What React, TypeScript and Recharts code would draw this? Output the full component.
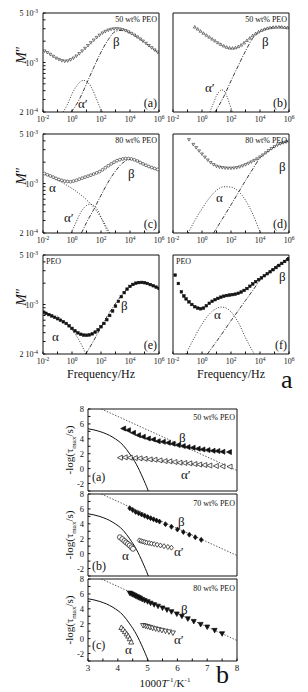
import React from "react";
import { ComposedChart, Line, Scatter, XAxis, YAxis } from "recharts";

const SERIF = '"Liberation Serif", "Times New Roman", serif';

type Pair = [number, number];

// ---- M'' spectra, [log10 f, M''] ----
const specA50: Pair[] = [
  [-1.9, 1.45e-3], [-1.7, 1.38e-3], [-1.5, 1.3e-3], [-1.3, 1.22e-3], [-1.1, 1.15e-3], [-0.9, 1.1e-3],
  [-0.7, 1.06e-3], [-0.5, 1.04e-3], [-0.3, 1.05e-3], [-0.1, 1.09e-3], [0.1, 1.15e-3], [0.3, 1.23e-3],
  [0.5, 1.33e-3], [0.7, 1.45e-3], [0.9, 1.58e-3], [1.1, 1.73e-3], [1.3, 1.9e-3], [1.5, 2.07e-3],
  [1.7, 2.25e-3], [1.9, 2.43e-3], [2.1, 2.6e-3], [2.3, 2.74e-3], [2.5, 2.86e-3], [2.7, 2.94e-3],
  [2.9, 2.98e-3], [3.1, 2.99e-3], [3.3, 2.96e-3], [3.5, 2.9e-3], [3.7, 2.81e-3], [3.9, 2.7e-3],
  [4.1, 2.57e-3], [4.3, 2.43e-3], [4.5, 2.29e-3], [4.7, 2.14e-3], [4.9, 2.0e-3], [5.1, 1.86e-3],
  [5.3, 1.73e-3], [5.5, 1.61e-3], [5.7, 1.5e-3], [5.9, 1.4e-3],
];
const betaA50: Pair[] = [
  [-0.05, 2e-4], [0.5, 3.0e-4], [1.0, 5.0e-4], [1.5, 8.5e-4], [2.0, 1.4e-3], [2.5, 2.1e-3],
  [3.0, 2.75e-3], [3.5, 2.85e-3], [4.0, 2.6e-3], [4.5, 2.28e-3], [5.0, 1.93e-3], [5.5, 1.61e-3], [6.0, 1.35e-3],
];
const alphaPA50: Pair[] = [
  [-0.6, 2e-4], [-0.3, 2.6e-4], [0, 3.6e-4], [0.3, 4.6e-4], [0.6, 5.4e-4], [0.8, 5.6e-4],
  [1.0, 5.4e-4], [1.3, 4.6e-4], [1.6, 3.4e-4], [1.9, 2.4e-4], [2.1, 2e-4],
];

const specB50: Pair[] = [
  [-0.5, 3.18e-3], [-0.3, 2.98e-3], [-0.1, 2.78e-3], [0.1, 2.6e-3], [0.3, 2.44e-3], [0.5, 2.29e-3],
  [0.7, 2.15e-3], [0.9, 2.03e-3], [1.1, 1.91e-3], [1.3, 1.81e-3], [1.5, 1.72e-3], [1.7, 1.65e-3],
  [1.9, 1.61e-3], [2.1, 1.6e-3], [2.3, 1.62e-3], [2.5, 1.68e-3], [2.7, 1.77e-3], [2.9, 1.9e-3],
  [3.1, 2.05e-3], [3.3, 2.22e-3], [3.5, 2.4e-3], [3.7, 2.57e-3], [3.9, 2.72e-3], [4.1, 2.85e-3],
  [4.3, 2.96e-3], [4.5, 3.05e-3], [4.7, 3.11e-3], [4.9, 3.15e-3], [5.1, 3.17e-3], [5.3, 3.18e-3],
  [5.5, 3.17e-3], [5.7, 3.14e-3], [5.9, 3.1e-3],
];
const betaB50: Pair[] = [
  [0.9, 2e-4], [1.5, 3.3e-4], [2.0, 5.5e-4], [2.5, 9e-4], [3.0, 1.45e-3], [3.5, 2.2e-3],
  [4.0, 2.75e-3], [4.5, 3.02e-3], [5.0, 3.15e-3], [5.5, 3.17e-3], [6.0, 3.1e-3],
];
const alphaPB50: Pair[] = [
  [0.55, 2e-4], [0.8, 2.7e-4], [1.0, 3.4e-4], [1.2, 3.9e-4], [1.35, 4.1e-4], [1.5, 4.0e-4],
  [1.7, 3.4e-4], [1.9, 2.6e-4], [2.1, 2e-4],
];

const specC80: Pair[] = [
  [-1.9, 1.38e-3], [-1.7, 1.33e-3], [-1.5, 1.28e-3], [-1.3, 1.23e-3], [-1.1, 1.18e-3], [-0.9, 1.14e-3],
  [-0.7, 1.11e-3], [-0.5, 1.08e-3], [-0.3, 1.07e-3], [-0.1, 1.06e-3], [0.1, 1.08e-3], [0.3, 1.11e-3],
  [0.5, 1.15e-3], [0.7, 1.19e-3], [0.9, 1.23e-3], [1.1, 1.27e-3], [1.3, 1.31e-3], [1.5, 1.36e-3],
  [1.7, 1.41e-3], [1.9, 1.47e-3], [2.1, 1.56e-3], [2.3, 1.67e-3], [2.5, 1.78e-3], [2.7, 1.89e-3],
  [2.9, 2.0e-3], [3.1, 2.1e-3], [3.3, 2.17e-3], [3.5, 2.22e-3], [3.7, 2.25e-3], [3.9, 2.25e-3],
  [4.1, 2.22e-3], [4.3, 2.16e-3], [4.5, 2.08e-3], [4.7, 1.98e-3], [4.9, 1.89e-3], [5.1, 1.81e-3],
  [5.3, 1.74e-3], [5.5, 1.68e-3], [5.7, 1.63e-3], [5.9, 1.58e-3],
];
const alphaC80: Pair[] = [
  [-2, 1.4e-3], [-1, 1.12e-3], [0, 8.5e-4], [0.5, 7.2e-4], [1, 5.9e-4], [1.5, 4.6e-4],
  [2, 3.3e-4], [2.3, 2.6e-4], [2.6, 2e-4],
];
const alphaPC80: Pair[] = [
  [-0.05, 2e-4], [0.3, 2.9e-4], [0.6, 3.9e-4], [0.9, 4.7e-4], [1.2, 5.1e-4], [1.5, 4.9e-4],
  [1.8, 4.1e-4], [2.1, 3.0e-4], [2.4, 2.2e-4], [2.5, 2e-4],
];
const betaC80: Pair[] = [
  [0.65, 2e-4], [1.0, 2.8e-4], [1.5, 4.3e-4], [2.0, 6.8e-4], [2.5, 1.05e-3], [3.0, 1.5e-3],
  [3.5, 1.95e-3], [4.0, 2.2e-3], [4.5, 2.1e-3], [5.0, 1.85e-3], [5.5, 1.68e-3], [6.0, 1.56e-3],
];

const specD80: Pair[] = [
  [-0.9, 4.15e-3], [-0.6, 3.55e-3], [-0.4, 3.2e-3], [-0.2, 2.88e-3], [0.0, 2.6e-3], [0.2, 2.35e-3],
  [0.4, 2.14e-3], [0.6, 1.97e-3], [0.8, 1.84e-3], [1.0, 1.75e-3], [1.2, 1.7e-3], [1.4, 1.67e-3],
  [1.6, 1.65e-3], [1.8, 1.64e-3], [2.0, 1.64e-3], [2.2, 1.65e-3], [2.4, 1.67e-3], [2.6, 1.71e-3],
  [2.8, 1.77e-3], [3.0, 1.84e-3], [3.2, 1.92e-3], [3.4, 2.01e-3], [3.6, 2.11e-3], [3.8, 2.22e-3],
  [4.0, 2.36e-3], [4.2, 2.52e-3], [4.4, 2.7e-3], [4.6, 2.9e-3], [4.8, 3.1e-3], [5.0, 3.3e-3],
  [5.2, 3.48e-3], [5.4, 3.63e-3], [5.6, 3.75e-3], [5.8, 3.85e-3], [6.0, 3.93e-3],
];
const alphaD80: Pair[] = [
  [-0.95, 2e-4], [-0.5, 3.0e-4], [0, 4.4e-4], [0.5, 6.2e-4], [1.0, 8.0e-4], [1.5, 9.0e-4],
  [2.0, 8.9e-4], [2.5, 7.8e-4], [3.0, 5.8e-4], [3.5, 3.7e-4], [4.0, 2.1e-4], [4.05, 2e-4],
];
const betaD80: Pair[] = [
  [0.8, 2e-4], [1.5, 3.4e-4], [2.0, 5.0e-4], [2.5, 7.4e-4], [3.0, 1.1e-3], [3.5, 1.6e-3],
  [4.0, 2.3e-3], [4.5, 2.8e-3], [5.0, 3.3e-3], [5.5, 3.7e-3], [6.0, 3.95e-3],
];

const specE: Pair[] = [
  [-2.0, 7.8e-4], [-1.8, 7.5e-4], [-1.6, 7.2e-4], [-1.4, 6.9e-4], [-1.2, 6.6e-4], [-1.0, 6.3e-4],
  [-0.8, 6.0e-4], [-0.6, 5.7e-4], [-0.4, 5.4e-4], [-0.2, 5.0e-4], [0.0, 4.6e-4], [0.2, 4.25e-4],
  [0.4, 3.98e-4], [0.6, 3.8e-4], [0.8, 3.7e-4], [1.0, 3.68e-4], [1.2, 3.72e-4], [1.4, 3.85e-4],
  [1.6, 4.08e-4], [1.8, 4.4e-4], [2.0, 4.85e-4], [2.2, 5.4e-4], [2.4, 6.1e-4], [2.6, 7.0e-4],
  [2.8, 8.1e-4], [3.0, 9.5e-4], [3.2, 1.11e-3], [3.4, 1.29e-3], [3.6, 1.47e-3], [3.8, 1.65e-3],
  [4.0, 1.8e-3], [4.2, 1.92e-3], [4.4, 2.0e-3], [4.6, 2.04e-3], [4.8, 2.05e-3], [5.0, 2.03e-3],
  [5.2, 1.98e-3], [5.4, 1.91e-3], [5.6, 1.84e-3], [5.8, 1.76e-3], [6.0, 1.69e-3],
];
const alphaE: Pair[] = [[-1.0, 6.9e-4], [-0.5, 5.6e-4], [0, 4.4e-4], [0.5, 3.1e-4], [0.95, 2e-4]];
const betaE: Pair[] = [
  [0.95, 2e-4], [1.5, 3.1e-4], [2.0, 4.8e-4], [2.5, 7.2e-4], [3.0, 1.03e-3], [3.5, 1.42e-3],
  [4.0, 1.8e-3], [4.5, 2.02e-3], [5.0, 2.03e-3], [5.5, 1.88e-3], [6.0, 1.7e-3],
];

const specF: Pair[] = [
  [-1.85, 2.6e-3], [-1.63, 1.98e-3], [-1.42, 1.51e-3], [-1.25, 1.32e-3], [-1.1, 1.2e-3], [-0.9, 1.09e-3],
  [-0.7, 1.0e-3], [-0.5, 9.3e-4], [-0.3, 8.9e-4], [-0.1, 8.7e-4], [0.1, 8.9e-4], [0.3, 9.6e-4],
  [0.5, 1.04e-3], [0.7, 1.11e-3], [0.9, 1.17e-3], [1.1, 1.22e-3], [1.3, 1.27e-3], [1.5, 1.31e-3],
  [1.7, 1.34e-3], [1.9, 1.36e-3], [2.1, 1.38e-3], [2.3, 1.4e-3], [2.5, 1.44e-3], [2.7, 1.5e-3],
  [2.9, 1.58e-3], [3.1, 1.68e-3], [3.3, 1.81e-3], [3.5, 1.95e-3], [3.7, 2.1e-3], [3.9, 2.25e-3],
  [4.1, 2.38e-3], [4.3, 2.55e-3], [4.5, 2.72e-3], [4.7, 2.9e-3], [4.9, 3.1e-3], [5.1, 3.32e-3],
  [5.3, 3.55e-3], [5.5, 3.8e-3], [5.7, 4.05e-3], [5.9, 4.32e-3], [6.0, 4.45e-3],
];
const alphaF: Pair[] = [
  [-1.1, 2e-4], [-0.5, 3.5e-4], [0, 5.3e-4], [0.5, 7.3e-4], [1.0, 8.8e-4], [1.3, 9.2e-4],
  [1.6, 9.0e-4], [2.0, 7.9e-4], [2.5, 5.6e-4], [3.0, 3.4e-4], [3.6, 2e-4],
];
const betaF: Pair[] = [
  [0.37, 2e-4], [1.0, 3.0e-4], [1.5, 4.2e-4], [2.0, 5.9e-4], [2.5, 8.2e-4], [3.0, 1.14e-3],
  [3.5, 1.58e-3], [4.0, 2.2e-3], [4.5, 2.75e-3], [5.0, 3.35e-3], [5.5, 3.95e-3], [6.0, 4.5e-3],
];

// ---- relaxation map, [1000/T, -log tau] ----
const vftCurve: Pair[] = [
  [3, 5.35], [3.4, 4.98], [3.84, 4.19], [4.18, 3.13], [4.4, 1.98], [4.62, 0.6], [4.84, -1.24], [5.01, -2.86], [5.05, -3.3],
];
const arrLine: Pair[] = [[3.45, 8], [8, -0.25]];

const beta50: Pair[] = [
  [4.18, 5.38], [4.34, 5.16], [4.51, 4.8], [4.68, 4.49], [4.84, 4.27], [5.01, 4.04], [5.18, 3.91],
  [5.34, 3.69], [5.51, 3.6], [5.68, 3.47], [5.84, 3.33], [6.01, 3.16], [6.18, 3.02], [6.34, 2.89],
  [6.51, 2.8], [6.68, 2.67], [6.84, 2.58], [7.01, 2.49], [7.18, 2.4], [7.34, 2.36], [7.51, 2.27], [7.73, 2.22],
];
const alphaP50: Pair[] = [
  [4.07, 1.47], [4.23, 1.51], [4.4, 1.47], [4.57, 1.42], [4.73, 1.38], [4.9, 1.33], [5.07, 1.24],
  [5.23, 1.2], [5.4, 1.11], [5.57, 1.02], [5.73, 0.98], [5.9, 0.89], [6.07, 0.8], [6.23, 0.76],
  [6.4, 0.71], [6.57, 0.62], [6.73, 0.55], [6.9, 0.48], [7.07, 0.42], [7.29, 0.36], [7.51, 0.31], [7.75, 0.27],
];
const beta70: Pair[] = [
  [4.4, 6.1], [4.5, 5.85], [4.6, 5.6], [4.7, 5.42], [4.8, 5.25], [4.9, 5.07], [5.0, 4.9], [5.1, 4.75],
  [5.2, 4.6], [5.3, 4.45], [5.4, 4.3], [5.6, 3.95], [5.8, 3.6], [6.0, 3.25], [6.2, 2.9], [6.4, 2.55],
  [6.6, 2.2], [6.8, 1.85],
];
const alphaP70: Pair[] = [
  [4.72, 1.78], [4.78, 1.7], [4.84, 1.62], [4.9, 1.55], [4.97, 1.48], [5.05, 1.42], [5.13, 1.35],
  [5.22, 1.28], [5.32, 1.2], [5.43, 1.1], [5.55, 1.0], [5.68, 0.9], [5.8, 0.8],
];
const alpha70: Pair[] = [
  [4.07, 2.2], [4.15, 1.95], [4.22, 1.7], [4.28, 1.5], [4.34, 1.3], [4.4, 1.1], [4.46, 0.85], [4.51, 0.65],
];
const beta80: Pair[] = [
  [4.4, 6.1], [4.45, 6.0], [4.5, 5.9], [4.55, 5.8], [4.6, 5.7], [4.65, 5.6], [4.7, 5.5], [4.75, 5.4],
  [4.82, 5.25], [4.9, 5.1], [5.0, 4.95], [5.1, 4.75], [5.22, 4.55], [5.35, 4.35], [5.5, 4.1],
  [5.65, 3.85], [5.8, 3.6], [5.98, 3.3], [6.15, 3.0], [6.35, 2.65], [6.55, 2.3], [6.78, 1.9],
  [7.0, 1.55], [7.25, 1.1], [7.5, 0.65],
];
const alphaP80: Pair[] = [
  [4.85, 1.75], [4.93, 1.68], [5.0, 1.6], [5.08, 1.5], [5.17, 1.4], [5.27, 1.3], [5.37, 1.2],
  [5.48, 1.1], [5.6, 1.0], [5.72, 0.9], [5.85, 0.75],
];
const alpha80: Pair[] = [
  [4.12, 1.5], [4.18, 1.25], [4.24, 0.95], [4.3, 0.65], [4.35, 0.35], [4.4, 0.0], [4.45, -0.45],
];

const freqTicks = [1e-2, 1e-1, 1, 1e1, 1e2, 1e3, 1e4, 1e5, 1e6];
const mTicks = [2e-4, 3e-4, 4e-4, 5e-4, 6e-4, 7e-4, 8e-4, 9e-4, 1e-3, 2e-3, 3e-3, 4e-3, 5e-3];
const invTTicks = [3, 3.5, 4, 4.5, 5, 5.5, 6, 6.5, 7, 7.5, 8];
const tauTicks = [-3, -2, -1, 0, 1, 2, 3, 4, 5, 6, 7, 8];
const tauLabels = [-2, 0, 2, 4, 6, 8];

const toFM = (a: Pair[]) => a.map(([lf, m]) => ({ f: 10 ** lf, m }));
const toXY = (a: Pair[]) => a.map(([x, y]) => ({ x, y }));

const DOT = "1 1.6";
const DASHDOT = "4 1.5 1 1.5";

function marker(kind: string, s: number, sw = 0.7) {
  return (p: any) => {
    const { cx, cy } = p;
    if (cx == null || cy == null) return <g />;
    const k = s;
    const filled = kind.endsWith("F");
    const fill = filled ? "#111" : "#fff";
    const base = { fill, stroke: "#111", strokeWidth: sw };
    if (kind.startsWith("sq")) return <rect x={cx - k / 2} y={cy - k / 2} width={k} height={k} {...base} />;
    if (kind.startsWith("ci")) return <circle cx={cx} cy={cy} r={k / 2} {...base} />;
    if (kind.startsWith("di"))
      return <path d={`M${cx},${cy - k / 2}L${cx + k / 2.6},${cy}L${cx},${cy + k / 2}L${cx - k / 2.6},${cy}Z`} {...base} />;
    if (kind.startsWith("tl"))
      return <path d={`M${cx - k / 2},${cy}L${cx + k / 2},${cy - k / 2}L${cx + k / 2},${cy + k / 2}Z`} {...base} />;
    if (kind.startsWith("tu"))
      return <path d={`M${cx},${cy - k / 2}L${cx + k / 2},${cy + k / 2.4}L${cx - k / 2},${cy + k / 2.4}Z`} {...base} />;
    return <path d={`M${cx},${cy + k / 2}L${cx + k / 2},${cy - k / 2.4}L${cx - k / 2},${cy - k / 2.4}Z`} {...base} />;
  };
}

function FreqTick(props: any) {
  const { x, y, payload } = props;
  const e = Math.round(Math.log10(payload.value));
  if (e % 2 !== 0) return <g />;
  return (
    <text x={x} y={y + 10} textAnchor="middle" fontSize={8} fontFamily={SERIF} fill="#111">
      10<tspan dy={-3.5} fontSize={5.5}>{e}</tspan>
    </text>
  );
}

function MTick(props: any) {
  const { x, y, payload } = props;
  const v = payload.value;
  const lab = v === 5e-3 ? ["5 10", "-3"] : v === 1e-3 ? ["10", "-3"] : v === 2e-4 ? ["2 10", "-4"] : null;
  if (!lab) return <g />;
  return (
    <text x={x - 5} y={y + 3} textAnchor="end" fontSize={8} fontFamily={SERIF} fill="#111">
      {lab[0]}<tspan dy={-3.5} fontSize={5.5}>{lab[1]}</tspan>
    </text>
  );
}

function InvTTick(props: any) {
  const { x, y, payload } = props;
  if (payload.value % 1 !== 0) return <g />;
  return (
    <text x={x} y={y + 10} textAnchor="middle" fontSize={9} fontFamily={SERIF} fill="#111">
      {payload.value}
    </text>
  );
}

function TauTick(props: any) {
  const { x, y, payload } = props;
  const v = Number(payload.value);
  if (!tauLabels.includes(v)) return <g />;
  return (
    <text x={x - 4} y={y + 3} textAnchor="end" fontSize={8.5} fontFamily={SERIF} fill="#111">
      {String(v)}
    </text>
  );
}

type Fit = { data: Pair[]; dash: string };

const TW = 116;
const TH = 99;

function TopPanel({ x, y, pts, mk, fits, yLabels }: { x: number; y: number; pts: Pair[]; mk: string; fits: Fit[]; yLabels: boolean }) {
  const common = { type: "number" as const, scale: "log" as const, allowDataOverflow: true, tickSize: -2.5, tickMargin: 2.5, stroke: "#111", interval: 0 as const };
  const sz = mk.startsWith("sq") ? 2.6 : 2.8;
  return (
    <div style={{ position: "absolute", left: x - 40, top: y - 5 }}>
      <ComposedChart width={TW + 49} height={TH + 21} margin={{ top: 4, right: 8, bottom: 0, left: 0 }}>
        <XAxis dataKey="f" domain={[1e-2, 1e6]} ticks={freqTicks} height={16} tick={FreqTick} {...common} />
        <XAxis xAxisId="top" orientation="top" domain={[1e-2, 1e6]} ticks={freqTicks} height={1} tick={false} {...common} />
        <YAxis dataKey="m" domain={[2e-4, 5e-3]} ticks={mTicks} width={40} tick={yLabels ? MTick : false} {...common} />
        <YAxis yAxisId="right" orientation="right" domain={[2e-4, 5e-3]} ticks={mTicks} width={1} tick={false} {...common} />
        {fits.map((ft, i) => (
          <Line key={i} data={toFM(ft.data)} dataKey="m" type="monotone" stroke="#222" strokeWidth={0.9}
            strokeDasharray={ft.dash} dot={false} activeDot={false} isAnimationActive={false} />
        ))}
        <Scatter data={toFM(pts)} dataKey="m" shape={marker(mk, sz, 0.55)} isAnimationActive={false} />
      </ComposedChart>
    </div>
  );
}

const BW = 149;
const BH = 82;

type Ser = { data: Pair[]; mk: string };

function MapPanel({ y, series, xLabels }: { y: number; series: Ser[]; xLabels: boolean }) {
  const common = { type: "number" as const, allowDataOverflow: true, tickSize: -2.5, tickMargin: 2.5, stroke: "#111", interval: 0 as const };
  return (
    <div style={{ position: "absolute", left: 88 - 30, top: y - 5 }}>
      <ComposedChart width={BW + 39} height={BH + 21} margin={{ top: 4, right: 8, bottom: 0, left: 0 }}>
        <XAxis dataKey="x" domain={[3, 8]} ticks={invTTicks} height={16} tick={xLabels ? InvTTick : false} {...common} />
        <XAxis xAxisId="top" orientation="top" domain={[3, 8]} ticks={invTTicks} height={1} tick={false} {...common} />
        <YAxis dataKey="y" domain={[-3, 8]} ticks={tauTicks} width={30} tick={TauTick} {...common} />
        <YAxis yAxisId="right" orientation="right" domain={[-3, 8]} ticks={tauTicks} width={1} tick={false} {...common} />
        <Line data={toXY(vftCurve)} dataKey="y" type="monotone" stroke="#111" strokeWidth={1} dot={false} activeDot={false} isAnimationActive={false} />
        <Line data={toXY(arrLine)} dataKey="y" type="linear" stroke="#555" strokeWidth={1} strokeDasharray="1.4 1.6" dot={false} activeDot={false} isAnimationActive={false} />
        {series.map((s, i) => (
          <Scatter key={i} data={toXY(s.data)} dataKey="y" shape={marker(s.mk, 5, 0.7)} isAnimationActive={false} />
        ))}
      </ComposedChart>
    </div>
  );
}

function T({ x, y, s = 13, a = "start", lh = 1, children }: { x: number; y: number; s?: number; a?: string; lh?: number; children: React.ReactNode }) {
  const tr = a === "end" ? "translateX(-100%)" : a === "middle" ? "translateX(-50%)" : undefined;
  return (
    <div style={{ position: "absolute", left: x, top: y, fontSize: s, fontFamily: SERIF, lineHeight: lh, whiteSpace: "nowrap", transform: tr, color: "#111" }}>
      {children}
    </div>
  );
}

function VLabel({ x, y, s = 12, children }: { x: number; y: number; s?: number; children: React.ReactNode }) {
  return (
    <div style={{ position: "absolute", left: x, top: y, fontSize: s, fontFamily: SERIF, lineHeight: 1, whiteSpace: "nowrap", transform: "translate(-50%, -50%) rotate(-90deg)", color: "#111" }}>
      {children}
    </div>
  );
}

const rowsTop = [13, 134, 255];
const colsLeft = [43, 173];
const mapRows = [409, 494, 579];

export default function App() {
  const [r1, r2, r3] = rowsTop;
  const [c1, c2] = colsLeft;
  return (
    <div style={{ position: "absolute", left: 0, top: 0, width: 308, height: 692, background: "#fff", overflow: "hidden" }}>
      <TopPanel x={c1} y={r1} pts={specA50} mk="td" yLabels fits={[{ data: betaA50, dash: DASHDOT }, { data: alphaPA50, dash: DOT }]} />
      <TopPanel x={c2} y={r1} pts={specB50} mk="tu" yLabels={false} fits={[{ data: betaB50, dash: DASHDOT }, { data: alphaPB50, dash: DOT }]} />
      <TopPanel x={c1} y={r2} pts={specC80} mk="ci" yLabels fits={[{ data: betaC80, dash: DASHDOT }, { data: alphaC80, dash: DOT }, { data: alphaPC80, dash: DOT }]} />
      <TopPanel x={c2} y={r2} pts={specD80} mk="td" yLabels={false} fits={[{ data: betaD80, dash: DASHDOT }, { data: alphaD80, dash: DOT }]} />
      <TopPanel x={c1} y={r3} pts={specE} mk="sqF" yLabels fits={[{ data: betaE, dash: DASHDOT }, { data: alphaE, dash: DOT }]} />
      <TopPanel x={c2} y={r3} pts={specF} mk="sqF" yLabels={false} fits={[{ data: betaF, dash: DASHDOT }, { data: alphaF, dash: DOT }]} />

      {[r1, r2, r3].map((r) => (
        <VLabel key={r} x={22} y={r + 42} s={14}><i>M</i>″</VLabel>
      ))}

      <T x={c1 + TW - 2} y={r1 + 3} s={8} a="end">50 wt% PEO</T>
      <T x={113} y={r1 + 22} >β</T>
      <T x={78} y={r1 + 84}>α′</T>
      <T x={c1 + TW - 2} y={r1 + 84} s={12} a="end">(a)</T>

      <T x={c2 + TW - 2} y={r1 + 3} s={8} a="end">50 wt% PEO</T>
      <T x={262} y={r1 + 22}>β</T>
      <T x={205} y={r1 + 68}>α′</T>
      <T x={c2 + TW - 2} y={r1 + 84} s={12} a="end">(b)</T>

      <T x={c1 + TW - 2} y={r2 + 3} s={8} a="end">80 wt% PEO</T>
      <T x={49} y={r2 + 47}>α</T>
      <T x={64} y={r2 + 77}>α′</T>
      <T x={128} y={r2 + 33}>β</T>
      <T x={c1 + TW - 2} y={r2 + 84} s={12} a="end">(c)</T>

      <T x={c2 + TW - 2} y={r2 + 3} s={8} a="end">80 wt% PEO</T>
      <T x={216} y={r2 + 57}>α</T>
      <T x={279} y={r2 + 26}>β</T>
      <T x={c2 + TW - 2} y={r2 + 84} s={12} a="end">(d)</T>

      <T x={c1 + 3} y={r3 + 3} s={8}>PEO</T>
      <T x={52} y={r3 + 75}>α</T>
      <T x={121} y={r3 + 44}>β</T>
      <T x={c1 + TW - 2} y={r3 + 84} s={12} a="end">(e)</T>

      <T x={c2 + 3} y={r3 + 3} s={8}>PEO</T>
      <T x={214} y={r3 + 53}>α</T>
      <T x={279} y={r3 + 15}>β</T>
      <T x={c2 + TW - 2} y={r3 + 84} s={12} a="end">(f)</T>

      <T x={c1 + TW / 2} y={r3 + TH + 14} s={12} a="middle">Frequency/Hz</T>
      <T x={c2 + TW / 2} y={r3 + TH + 14} s={12} a="middle">Frequency/Hz</T>
      <T x={281} y={r3 + TH + 16} s={26} lh={0.8}>a</T>

      <MapPanel y={mapRows[0]} xLabels={false} series={[{ data: beta50, mk: "tlF" }, { data: alphaP50, mk: "tl" }]} />
      <MapPanel y={mapRows[1]} xLabels={false} series={[{ data: beta70, mk: "diF" }, { data: alphaP70, mk: "di" }, { data: alpha70, mk: "ci" }]} />
      <MapPanel y={mapRows[2]} xLabels series={[{ data: beta80, mk: "tdF" }, { data: alphaP80, mk: "td" }, { data: alpha80, mk: "tu" }]} />

      {mapRows.map((r) => (
        <VLabel key={r} x={71} y={r + BH / 2} s={11}>-log(τ<sub style={{ fontSize: 7 }}>max</sub>/s)</VLabel>
      ))}

      <T x={235} y={mapRows[0] + 5} s={8} a="end">50 wt% PEO</T>
      <T x={179} y={mapRows[0] + 22}>β</T>
      <T x={181} y={mapRows[0] + 59}>α′</T>
      <T x={92} y={mapRows[0] + 62} s={12}>(a)</T>

      <T x={235} y={mapRows[1] + 6} s={8} a="end">70 wt% PEO</T>
      <T x={178} y={mapRows[1] + 21}>β</T>
      <T x={174} y={mapRows[1] + 51}>α′</T>
      <T x={122} y={mapRows[1] + 55}>α</T>
      <T x={92} y={mapRows[1] + 66} s={12}>(b)</T>

      <T x={235} y={mapRows[2] + 6} s={8} a="end">80 wt% PEO</T>
      <T x={181} y={mapRows[2] + 24}>β</T>
      <T x={174} y={mapRows[2] + 54}>α′</T>
      <T x={125} y={mapRows[2] + 64}>α</T>
      <T x={92} y={mapRows[2] + 60} s={12}>(c)</T>

      <T x={165} y={mapRows[2] + BH + 16} s={11} a="middle">
        1000<i>T</i><sup style={{ fontSize: 7 }}>-1</sup>/K<sup style={{ fontSize: 7 }}>-1</sup>
      </T>
      <T x={216} y={mapRows[2] + BH + 4} s={26} lh={0.8}>b</T>
    </div>
  );
}
